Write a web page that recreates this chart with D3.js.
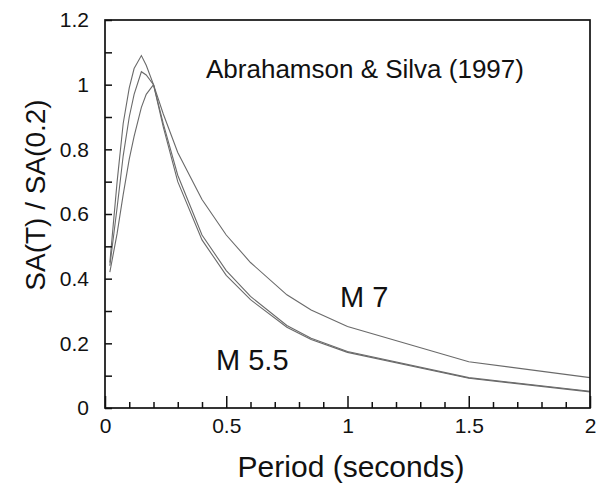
<!DOCTYPE html>
<html>
<head>
<meta charset="utf-8">
<script src="https://cdn.jsdelivr.net/npm/d3@7"></script>
<style>
  body { margin: 0; background: #fff; }
  text { font-family: "Liberation Sans", Arial, sans-serif; fill: #111; }
</style>
</head>
<body>
<script>
// periods (seconds) and SA(T)/SA(0.2)
const periods = [0.02, 0.05, 0.075, 0.1, 0.12, 0.15, 0.17, 0.2, 0.24, 0.3, 0.4, 0.5, 0.6, 0.75, 0.85, 1.0, 1.5, 2.0];
const m55 = [0.45, 0.70, 0.88, 0.99, 1.05, 1.09, 1.06, 1.0, 0.87, 0.70, 0.52, 0.41, 0.335, 0.25, 0.212, 0.172, 0.092, 0.05];
const m6  = [0.44, 0.62, 0.78, 0.90, 0.97, 1.04, 1.03, 1.0, 0.88, 0.72, 0.535, 0.425, 0.345, 0.255, 0.216, 0.175, 0.094, 0.052];
const m7  = [0.42, 0.54, 0.66, 0.77, 0.84, 0.93, 0.97, 1.0, 0.91, 0.79, 0.645, 0.535, 0.45, 0.35, 0.303, 0.252, 0.143, 0.094];
const series = [m55, m6, m7];

const xMajor = [0, 0.5, 1, 1.5, 2];
const xMinor = [0.1, 0.2, 0.3, 0.4, 0.6, 0.7, 0.8, 0.9, 1.1, 1.2, 1.3, 1.4, 1.6, 1.7, 1.8, 1.9];
const yMajor = [0, 0.2, 0.4, 0.6, 0.8, 1, 1.2];
const yMinor = [0.1, 0.3, 0.5, 0.7, 0.9, 1.1];

const W = 596, H = 498;
const plotLeft = 105, plotRight = 590, plotTop = 20, plotBottom = 408;

const svg = d3.select("body").append("svg")
  .attr("width", W)
  .attr("height", H);

const x = d3.scaleLinear().domain([0, 2]).range([plotLeft, plotRight]);
const y = d3.scaleLinear().domain([0, 1.2]).range([plotBottom, plotTop]);

// curves
const line = d3.line()
  .x((d, i) => x(periods[i]))
  .y(d => y(d));

svg.selectAll("path.curve")
  .data(series)
  .enter().append("path")
  .attr("class", "curve")
  .attr("d", line)
  .attr("fill", "none")
  .attr("stroke", "#6a6a6a")
  .attr("stroke-width", 1.1);

// axes, ticks pointing inward
const fmt = d => String(d);

const gx1 = svg.append("g")
  .attr("transform", `translate(0,${plotBottom})`)
  .call(d3.axisBottom(x).tickValues(xMinor).tickSize(-6).tickFormat(""));
const gx2 = svg.append("g")
  .attr("transform", `translate(0,${plotBottom})`)
  .call(d3.axisBottom(x).tickValues(xMajor).tickSize(-12).tickPadding(10).tickFormat(fmt));
const gy1 = svg.append("g")
  .attr("transform", `translate(${plotLeft},0)`)
  .call(d3.axisLeft(y).tickValues(yMinor).tickSize(-7).tickFormat(""));
const gy2 = svg.append("g")
  .attr("transform", `translate(${plotLeft},0)`)
  .call(d3.axisLeft(y).tickValues(yMajor).tickSize(-7).tickPadding(16).tickFormat(fmt));

[gx1, gx2, gy1, gy2].forEach(g => {
  g.select(".domain").remove();
  g.selectAll(".tick line").attr("stroke", "#111").attr("stroke-width", 1.5);
  g.selectAll("text").style("font-size", "21px").attr("fill", "#111");
});

// frame
svg.append("rect")
  .attr("x", plotLeft)
  .attr("y", plotTop)
  .attr("width", plotRight - plotLeft)
  .attr("height", plotBottom - plotTop)
  .attr("fill", "none")
  .attr("stroke", "#111")
  .attr("stroke-width", 1.7);

// annotations
svg.append("text")
  .attr("x", 206)
  .attr("y", 78)
  .style("font-size", "26px")
  .text("Abrahamson & Silva (1997)");

svg.append("text")
  .attr("x", 340)
  .attr("y", 307)
  .style("font-size", "29px")
  .text("M 7");

svg.append("text")
  .attr("x", 216)
  .attr("y", 370)
  .style("font-size", "29px")
  .text("M 5.5");

svg.append("text")
  .attr("transform", "translate(45,195) rotate(-90)")
  .attr("text-anchor", "middle")
  .style("font-size", "28px")
  .text("SA(T) / SA(0.2)");

svg.append("text")
  .attr("x", 351)
  .attr("y", 477)
  .attr("text-anchor", "middle")
  .style("font-size", "30px")
  .text("Period (seconds)");
</script>
</body>
</html>
